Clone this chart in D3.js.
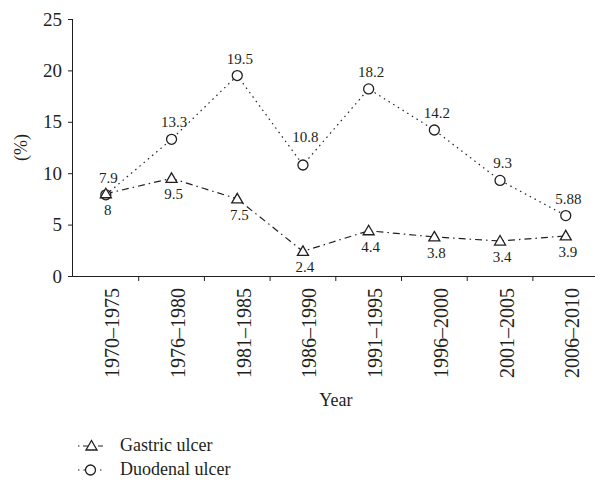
<!DOCTYPE html>
<html><head><meta charset="utf-8">
<script src="https://cdn.jsdelivr.net/npm/d3@7"></script>
<style>body{margin:0;background:#fff}</style>
</head><body>
<svg id="c" width="595" height="481"></svg>
<script>
const categories = ["1970–1975","1976–1980","1981–1985","1986–1990","1991–1995","1996–2000","2001–2005","2006–2010"];
const gastric = [8, 9.5, 7.5, 2.4, 4.4, 3.8, 3.4, 3.9];
const gastricLabels = ["8","9.5","7.5","2.4","4.4","3.8","3.4","3.9"];
const duodenal = [7.9, 13.3, 19.5, 10.8, 18.2, 14.2, 9.3, 5.88];
const duodenalLabels = ["7.9","13.3","19.5","10.8","18.2","14.2","9.3","5.88"];
const yTicks = [0,5,10,15,20,25];
const seriesNames = ["Gastric ulcer","Duodenal ulcer"];

(function(){
const svg = d3.select("#c");
const font = "'Liberation Serif','Times New Roman',serif";
const col = "#231f20";
const L = 73, T = 19, B = 276, bw = 65.7;
const x = d3.scaleBand().domain(categories).range([L, L + bw*categories.length]);
const y = d3.scaleLinear().domain([0,25]).range([B, T]);
const cx = c => x(c) + x.bandwidth()/2;

// y axis
const ya = svg.append("g").attr("transform",`translate(${L},0)`)
  .call(d3.axisLeft(y).tickValues(yTicks).tickSize(5).tickPadding(6));
ya.select(".domain").attr("d",`M-0.5,${T}V${B}`).attr("stroke",col);
ya.selectAll(".tick line").attr("stroke",col);
ya.selectAll("text").attr("font-family",font).attr("font-size",19).attr("fill",col);

// x axis
const xg = svg.append("g").attr("transform",`translate(0,${B})`);
xg.append("line").attr("x1",L).attr("x2",595).attr("y1",0.5).attr("y2",0.5).attr("stroke",col);
xg.selectAll("line.tk").data(categories.slice(1)).join("line").attr("class","tk")
  .attr("x1",d=>x(d)).attr("x2",d=>x(d)).attr("y1",0).attr("y2",5).attr("stroke",col);
xg.selectAll("text").data(categories).join("text")
  .attr("transform",d=>`translate(${cx(d)+13.5},12) rotate(-90)`)
  .attr("text-anchor","end").attr("font-family",font).attr("font-size",20).attr("fill",col)
  .text(d=>d);

// axis titles
svg.append("text").attr("x",(L+L+bw*8)/2).attr("y",406).attr("text-anchor","middle")
  .attr("font-family",font).attr("font-size",18).attr("fill",col).text("Year");
svg.append("text").attr("transform",`translate(27,${(T+B)/2}) rotate(-90)`).attr("text-anchor","middle")
  .attr("font-family",font).attr("font-size",18).attr("fill",col).text("(%)");

const line = d3.line().x((d,i)=>cx(categories[i])).y(d=>y(d));
const gastricDash = "7,4,1.5,4";
const duoDash = "1.5,4";

svg.append("path").datum(duodenal).attr("d",line).attr("fill","none").attr("stroke",col)
  .attr("stroke-width",1.2).attr("stroke-dasharray",duoDash);
svg.append("path").datum(gastric).attr("d",line).attr("fill","none").attr("stroke",col)
  .attr("stroke-width",1.2).attr("stroke-dasharray",gastricDash);

function triangle(g, px, py){
  g.append("path").attr("d","M0,-5.5L5.5,4L-5.5,4Z").attr("transform",`translate(${px},${py})`)
   .attr("fill","#fff").attr("stroke",col).attr("stroke-width",1.3);
}
function circle(g, px, py){
  g.append("circle").attr("cx",px).attr("cy",py).attr("r",5)
   .attr("fill","#fff").attr("stroke",col).attr("stroke-width",1.3);
}
const mk = svg.append("g");
duodenal.forEach((v,i)=>circle(mk, cx(categories[i]), y(v)));
gastric.forEach((v,i)=>triangle(mk, cx(categories[i]), y(v)));

// the label of the dip point (index 3) is lifted clear of the line
const lift = i => i === 3 ? 23 : 12;
svg.append("g").selectAll("text").data(duodenal).join("text")
  .attr("x",(d,i)=>cx(categories[i])+2.5).attr("y",(d,i)=>y(d)-lift(i))
  .attr("text-anchor","middle").attr("font-family",font).attr("font-size",15).attr("fill",col)
  .text((d,i)=>duodenalLabels[i]);
svg.append("g").selectAll("text").data(gastric).join("text")
  .attr("x",(d,i)=>cx(categories[i])+2).attr("y",d=>y(d)+21)
  .attr("text-anchor","middle").attr("font-family",font).attr("font-size",15).attr("fill",col)
  .text((d,i)=>gastricLabels[i]);

// legend
const lg = svg.append("g");
const legY = [446, 470];
lg.append("line").attr("x1",78).attr("x2",103).attr("y1",legY[0]).attr("y2",legY[0])
  .attr("stroke",col).attr("stroke-width",1.2).attr("stroke-dasharray","1.5,3.5,5,10,5");
triangle(lg, 91.5, legY[0]);
lg.append("line").attr("x1",78).attr("x2",104).attr("y1",legY[1]).attr("y2",legY[1])
  .attr("stroke",col).attr("stroke-width",1.2).attr("stroke-dasharray",duoDash);
circle(lg, 90.5, legY[1]);
seriesNames.forEach((s,i)=>{
  lg.append("text").attr("x",120).attr("y",legY[i]+5).attr("font-family",font).attr("font-size",18)
    .attr("fill",col).text(s);
});
})();
</script>
</body></html>
